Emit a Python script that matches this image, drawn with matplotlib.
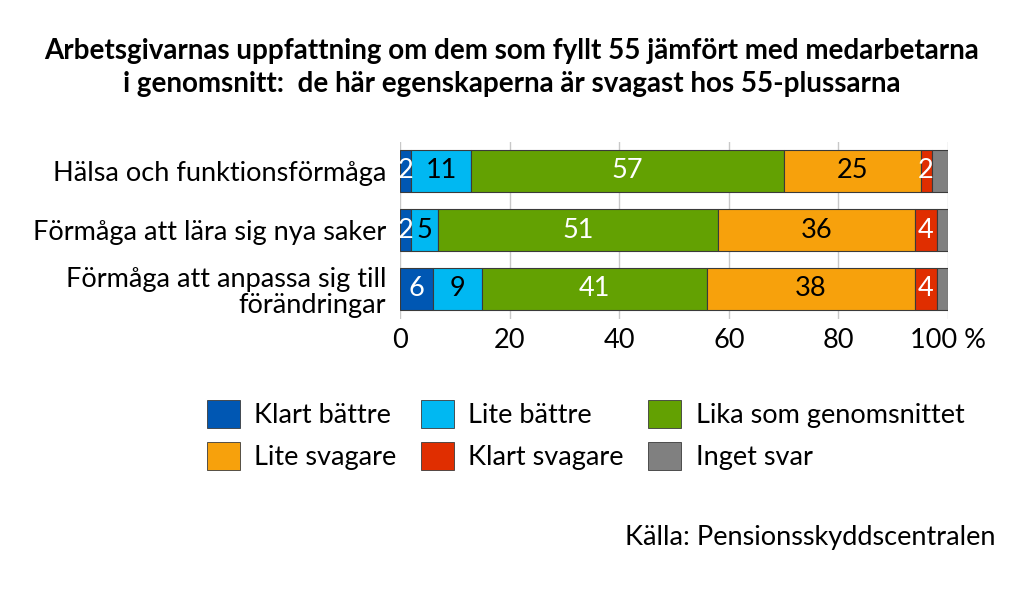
import matplotlib
matplotlib.use("Agg")
import matplotlib.pyplot as plt
from matplotlib.patches import Patch

plt.rcParams['font.family'] = ['Lato', 'DejaVu Sans']

categories = ["Hälsa och funktionsförmåga", "Förmåga att lära sig nya saker",
              "Förmåga att anpassa sig till\nförändringar"]
series_names = ["Klart bättre", "Lite bättre", "Lika som genomsnittet",
                "Lite svagare", "Klart svagare", "Inget svar"]
klart_battre = [2, 2, 6]
lite_battre = [11, 5, 9]
lika = [57, 51, 41]
lite_svagare = [25, 36, 38]
klart_svagare = [2, 4, 4]
inget_svar = [3, 2, 2]
xtick_values = [0, 20, 40, 60, 80, 100]
xtick_labels = ["0", "20", "40", "60", "80", "100 %"]

series = [klart_battre, lite_battre, lika, lite_svagare, klart_svagare, inget_svar]
colors = ["#0057B3", "#00B8F2", "#63A102", "#F7A10C", "#E02E00", "#808080"]
text_colors = ["white", "black", "white", "black", "white", None]

fig = plt.figure(figsize=(10.24, 5.98), dpi=100)
ax = fig.add_axes([400/1024, 1-318.5/598, 548/1024, 177/598])

y = list(range(len(categories)))
left = [0]*len(categories)
for vals, col, tc in zip(series, colors, text_colors):
    bars = ax.barh(y, vals, left=left, height=0.71, color=col,
                   edgecolor="#3a3a3a", linewidth=0.8, zorder=3)
    if tc is not None:
        for b, v, l in zip(bars, vals, left):
            ax.text(l + v/2, b.get_y() + b.get_height()/2, str(v),
                    ha="center", va="center", color=tc, fontsize=19.5, zorder=4)
    left = [a + b for a, b in zip(left, vals)]

ax.set_xlim(0, 100)
ax.set_ylim(len(categories) - 0.5, -0.5)
ax.set_xticks(xtick_values)
ax.set_xticklabels(xtick_labels, fontsize=19.5)
ax.set_yticks(y)
ax.set_yticklabels(categories, fontsize=19.5, linespacing=1.05)
ax.tick_params(axis="x", length=0, pad=7)
ax.tick_params(axis="y", length=0, pad=10)
ax.grid(axis="x", color="#c8c8c8", linewidth=1, zorder=0)
for s in ax.spines.values():
    s.set_visible(False)

fig.text(0.500, 0.887, "Arbetsgivarnas uppfattning om dem som fyllt 55 jämfört med medarbetarna\n"
         "i genomsnitt:  de här egenskaperna är svagast hos 55-plussarna",
         ha="center", va="center", fontsize=20, fontweight="bold", linespacing=1.36)

handles = [Patch(facecolor=c, edgecolor="#3a3a3a", linewidth=0.6) for c in colors]
order = [0, 3, 1, 4, 2, 5]
leg = fig.legend([handles[i] for i in order], [series_names[i] for i in order],
                 ncol=3, loc="center", bbox_to_anchor=(0.572, 0.272), frameon=False,
                 fontsize=19.5, handlelength=1.2, handleheight=1.2, handletextpad=0.55,
                 columnspacing=0.9, labelspacing=0.52)

fig.text(0.972, 0.102, "Källa: Pensionsskyddscentralen", ha="right", va="center", fontsize=19.5)

fig.savefig("out.png", dpi=100)
